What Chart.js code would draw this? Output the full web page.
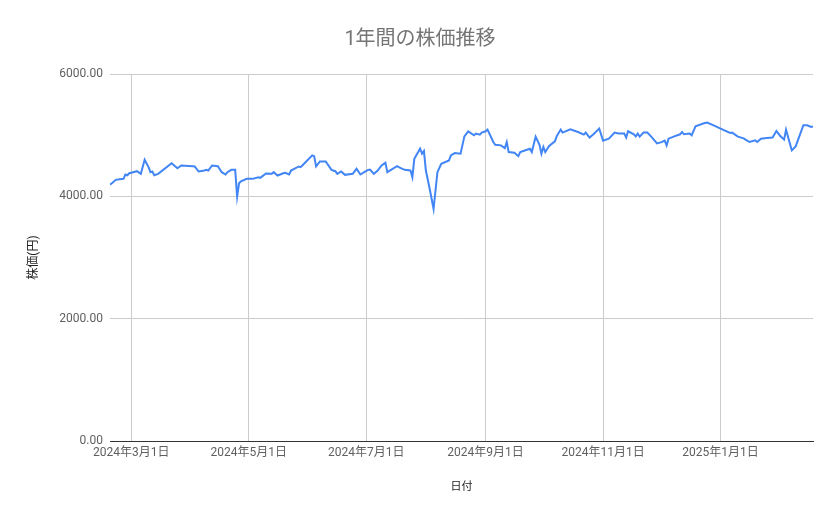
<!DOCTYPE html>
<html>
<head>
<meta charset="utf-8">
<script src="https://cdn.jsdelivr.net/npm/chart.js@4"></script>
<style>
html,body{margin:0;padding:0;background:#fff;}
#wrap{width:839px;height:519px;position:relative;}
</style>
</head>
<body>
<div id="wrap"><canvas id="c"></canvas></div>
<script>
const chartTitle = "1年間の株価推移";
const xTitle = "日付";
const yTitle = "株価(円)";
const dates = [
"2024-02-19","2024-02-20","2024-02-22","2024-02-24","2024-02-26","2024-02-27","2024-02-28","2024-02-29",
"2024-03-02","2024-03-04","2024-03-06","2024-03-08","2024-03-10","2024-03-11","2024-03-12","2024-03-13",
"2024-03-15","2024-03-22","2024-03-25","2024-03-27","2024-04-02","2024-04-03","2024-04-05","2024-04-08",
"2024-04-09","2024-04-10","2024-04-12","2024-04-15","2024-04-17","2024-04-19","2024-04-20","2024-04-22",
"2024-04-24","2024-04-25","2024-04-26","2024-04-27","2024-04-30","2024-05-03","2024-05-06","2024-05-07",
"2024-05-10","2024-05-13","2024-05-14","2024-05-16","2024-05-19","2024-05-20","2024-05-22","2024-05-23",
"2024-05-27","2024-05-28","2024-05-30","2024-06-03","2024-06-04","2024-06-05","2024-06-07","2024-06-10",
"2024-06-13","2024-06-15","2024-06-16","2024-06-18","2024-06-20","2024-06-24","2024-06-26","2024-06-28",
"2024-06-30","2024-07-02","2024-07-03","2024-07-05","2024-07-07","2024-07-09","2024-07-11","2024-07-12",
"2024-07-17","2024-07-19","2024-07-21","2024-07-24","2024-07-25","2024-07-26","2024-07-29","2024-07-30",
"2024-07-31","2024-08-01","2024-08-03","2024-08-05","2024-08-07","2024-08-09","2024-08-13","2024-08-14",
"2024-08-16","2024-08-19","2024-08-21","2024-08-23","2024-08-26","2024-08-27","2024-08-29","2024-08-30",
"2024-09-01","2024-09-02","2024-09-05","2024-09-06","2024-09-09","2024-09-11","2024-09-12","2024-09-13",
"2024-09-16","2024-09-18","2024-09-19","2024-09-21","2024-09-24","2024-09-25","2024-09-27","2024-09-29",
"2024-09-30","2024-10-01","2024-10-02","2024-10-04","2024-10-07","2024-10-08","2024-10-10","2024-10-11",
"2024-10-15","2024-10-19","2024-10-22","2024-10-23","2024-10-25","2024-10-27","2024-10-30","2024-11-01",
"2024-11-04","2024-11-07","2024-11-09","2024-11-12","2024-11-13","2024-11-14","2024-11-17","2024-11-18",
"2024-11-19","2024-11-20","2024-11-22","2024-11-24","2024-11-26","2024-11-29","2024-12-01","2024-12-03",
"2024-12-04","2024-12-05","2024-12-08","2024-12-11","2024-12-12","2024-12-13","2024-12-16","2024-12-17",
"2024-12-19","2024-12-23","2024-12-25","2024-12-29","2025-01-01","2025-01-06","2025-01-07","2025-01-10",
"2025-01-13","2025-01-14","2025-01-16","2025-01-19","2025-01-20","2025-01-22","2025-01-25","2025-01-28",
"2025-01-30","2025-02-01","2025-02-03","2025-02-04","2025-02-05","2025-02-07","2025-02-09","2025-02-13",
"2025-02-15","2025-02-17","2025-02-18"
];
const prices = [
4192,4214,4270,4280,4286,4357,4345,4378,
4395,4411,4368,4598,4477,4395,4406,4345,
4368,4542,4460,4505,4493,4488,4406,4422,
4433,4422,4504,4493,4395,4357,4395,4433,
4433,3995,4214,4247,4286,4286,4313,4302,
4373,4368,4395,4340,4378,4384,4357,4422,
4488,4477,4542,4669,4657,4488,4570,4570,
4433,4411,4368,4406,4351,4368,4450,4357,
4395,4433,4439,4368,4422,4504,4548,4395,
4493,4460,4433,4422,4313,4614,4779,4697,
4740,4422,4121,3793,4395,4532,4587,4669,
4707,4697,4981,5063,4998,5026,5009,5042,
5063,5091,4888,4844,4833,4789,4888,4723,
4713,4657,4723,4745,4779,4723,4976,4844,
4697,4807,4723,4823,4899,4987,5091,5042,
5096,5052,5009,5042,4960,5014,5108,4910,
4943,5042,5026,5026,4960,5063,5014,4981,
5026,4976,5042,5042,4976,4866,4882,4910,
4833,4943,4981,5014,5052,5014,5026,4998,
5146,5190,5206,5151,5107,5036,5042,4976,
4948,4927,4888,4916,4888,4943,4954,4960,
5069,4987,4927,5091,4976,4751,4817,5162,
5162,5134,5140
];
const tickDates = ["2024-03-01","2024-05-01","2024-07-01","2024-09-01","2024-11-01","2025-01-01"];
const xStart = "2024-02-19";
const xEnd = "2025-02-18";
const yTicks = [0, 2000, 4000, 6000];

function toDay(s){const [y,m,d]=s.split("-").map(Number);return Date.UTC(y,m-1,d)/86400000;}
function fmtDay(v){const dt=new Date(Math.round(v)*86400000);return dt.getUTCFullYear()+"年"+(dt.getUTCMonth()+1)+"月"+dt.getUTCDate()+"日";}

const FONT = "Roboto, 'Noto Sans CJK JP', sans-serif";
const points = dates.map((d,i)=>({x:toDay(d), y:prices[i]}));

new Chart(document.getElementById('c'), {
  type: 'line',
  data: { datasets: [{
    data: points,
    borderColor: '#4285F4',
    borderWidth: 2,
    pointRadius: 0,
    pointHoverRadius: 0,
    tension: 0,
    fill: false
  }]},
  options: {
    responsive: true,
    maintainAspectRatio: false,
    animation: false,
    layout: { padding: { left: 27, right: 26, top: 0, bottom: 0 } },
    plugins: {
      legend: { display: false },
      tooltip: { enabled: false },
      title: {
        display: true, text: chartTitle, color: '#757575',
        font: { family: FONT, size: 20, weight: 'normal', lineHeight: 1.2 },
        padding: { top: 28, bottom: 22 }
      }
    },
    scales: {
      x: {
        type: 'linear',
        min: toDay(xStart), max: toDay(xEnd),
        afterBuildTicks: (scale) => { scale.ticks = tickDates.map(s => ({ value: toDay(s) })); },
        afterFit: (scale) => { scale.height = 78; },
        ticks: {
          autoSkip: false, maxRotation: 0, color: '#5f5f5f', padding: 5,
          font: { family: FONT, size: 12 },
          callback: (v) => fmtDay(v)
        },
        grid: { color: '#cccccc', drawTicks: false, lineWidth: 1 },
        border: { display: true, color: '#333333', width: 1 },
        title: {
          display: true, text: xTitle, color: '#222222',
          font: { family: FONT, size: 11 }, padding: { top: 0, bottom: 25 }
        }
      },
      y: {
        min: 0, max: 6000,
        afterBuildTicks: (scale) => { scale.ticks = yTicks.map(v => ({ value: v })); },
        afterFit: (scale) => { scale.width = 83; },
        ticks: {
          color: '#5f5f5f', padding: 7,
          font: { family: FONT, size: 12 },
          callback: (v) => Number(v).toFixed(2)
        },
        grid: {
          color: (ctx) => ctx.tick && ctx.tick.value === 0 ? '#333333' : '#cccccc',
          drawTicks: false, lineWidth: 1
        },
        border: { display: false },
        title: {
          display: true, text: yTitle, color: '#222222',
          font: { family: FONT, size: 12 }, padding: { top: 0, bottom: 0 }
        }
      }
    }
  }
});
</script>
</body>
</html>
